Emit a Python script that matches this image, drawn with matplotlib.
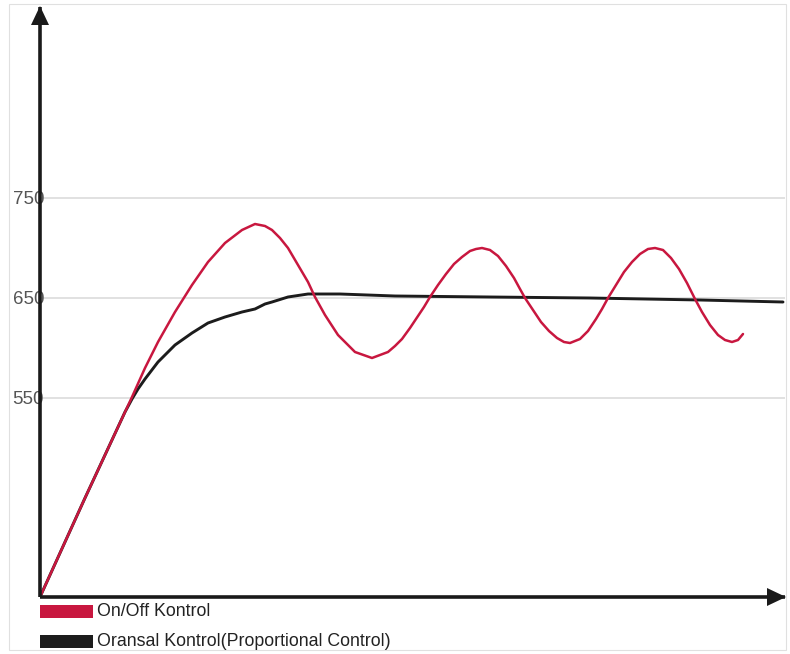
import matplotlib
matplotlib.use("Agg")
import matplotlib.pyplot as plt
from matplotlib.patches import Rectangle, Polygon

# ---- data ----
series_labels = ["On/Off Kontrol", "Oransal Kontrol(Proportional Control)"]
series_colors = ["#c8173f", "#1c1c1c"]

onoff_x = [0, 45, 92, 105, 118, 135, 152, 168, 185, 202,
           215, 225, 232, 240, 248, 258, 268, 275, 285, 298, 315,
           332, 348, 355, 362, 370, 378, 384, 390, 398, 406,
           414, 422, 430, 436, 442, 450, 458, 466, 474, 480,
           485, 493, 501, 509, 517, 524, 530, 540, 548, 556,
           562, 568, 576, 584, 592, 600, 608, 615, 623, 631,
           639, 647, 655, 662, 670, 678, 685, 692, 698, 703]
onoff_y = [351, 450, 551, 580, 606, 636, 663, 686, 705, 718,
           724, 722, 718, 710, 700, 683, 666, 651, 633, 613, 596,
           590, 596, 602, 609, 620, 632, 641, 651, 663, 674,
           684, 691, 697, 699, 700, 698, 692, 682, 670, 659,
           650, 638, 626, 617, 610, 606, 605, 609, 617, 629,
           639, 650, 663, 676, 686, 694, 699, 700, 698, 690,
           679, 665, 649, 636, 623, 613, 608, 606, 608, 614]

prop_x = [0, 45, 85, 92, 98, 105, 118, 135, 152, 168, 185, 202, 215, 225, 232, 248, 268,
          300, 355, 450, 550, 660, 743]
prop_y = [351, 450, 536, 549, 559, 569, 586, 603, 615, 625, 631, 636, 639, 644, 646, 651, 654,
          654, 652, 651, 650, 648, 646]

y_ticks = [550, 650, 750]
y_tick_labels = ["550", "650", "750"]

# ---- figure ----
W, H = 790, 654
fig = plt.figure(figsize=(W / 100, H / 100), dpi=100)
fig.patch.set_facecolor("white")


def fx(px):
    return px / W


def fy(py):
    return (H - py) / H


# faint outer frame
fig.add_artist(Rectangle((fx(9), fy(650)), (786 - 9) / W, (650 - 4) / H,
                         transform=fig.transFigure, fill=False,
                         edgecolor="#e0e0e0", linewidth=0.8))

ax_l, ax_r, ax_t, ax_b = 40, 785, 7, 597
ax = fig.add_axes([fx(ax_l), fy(ax_b), (ax_r - ax_l) / W, (ax_b - ax_t) / H])
ax.set_xlim(0, 745)
ax.set_ylim(351, 941)
ax.set_facecolor("none")

axis_color = "#1a1a1a"
for s in ["top", "right"]:
    ax.spines[s].set_visible(False)
for s in ["left", "bottom"]:
    ax.spines[s].set_linewidth(2.6)
    ax.spines[s].set_color(axis_color)
    ax.spines[s].set_zorder(5)
    ax.spines[s].set_capstyle("butt")

# arrow heads (figure pixel geometry)
fig.add_artist(Polygon([(fx(786), fy(597)), (fx(767), fy(588)), (fx(767), fy(606))],
                       closed=True, transform=fig.transFigure,
                       facecolor=axis_color, edgecolor="none", zorder=10))
fig.add_artist(Polygon([(fx(40), fy(6)), (fx(31), fy(25)), (fx(49), fy(25))],
                       closed=True, transform=fig.transFigure,
                       facecolor=axis_color, edgecolor="none", zorder=10))

ax.set_xticks([])
ax.set_yticks(y_ticks)
ax.set_yticklabels(y_tick_labels, family="Liberation Sans", fontsize=13.5, color="#555555")
ax.tick_params(axis="y", length=0, pad=-3)
ax.grid(axis="y", color="#dcdcdc", linewidth=1.2)
ax.set_axisbelow(True)

ax.plot(prop_x, prop_y, color=series_colors[1], linewidth=2.1, solid_capstyle="round",
        solid_joinstyle="round", zorder=3)
ax.plot(onoff_x, onoff_y, color=series_colors[0], linewidth=1.8, solid_capstyle="round",
        solid_joinstyle="round", zorder=4)

# legend below the axes
leg_rows = [611, 641]
for lab, col, yc in zip(series_labels, series_colors, leg_rows):
    fig.add_artist(Rectangle((fx(40), fy(yc + 6.5)), 53 / W, 13 / H,
                             transform=fig.transFigure, facecolor=col, edgecolor="none"))
    fig.text(fx(97), fy(yc), lab, family="Liberation Sans", fontsize=12.8,
             color="#222222", va="center", ha="left")

fig.savefig("out.png", dpi=100, facecolor="white")
